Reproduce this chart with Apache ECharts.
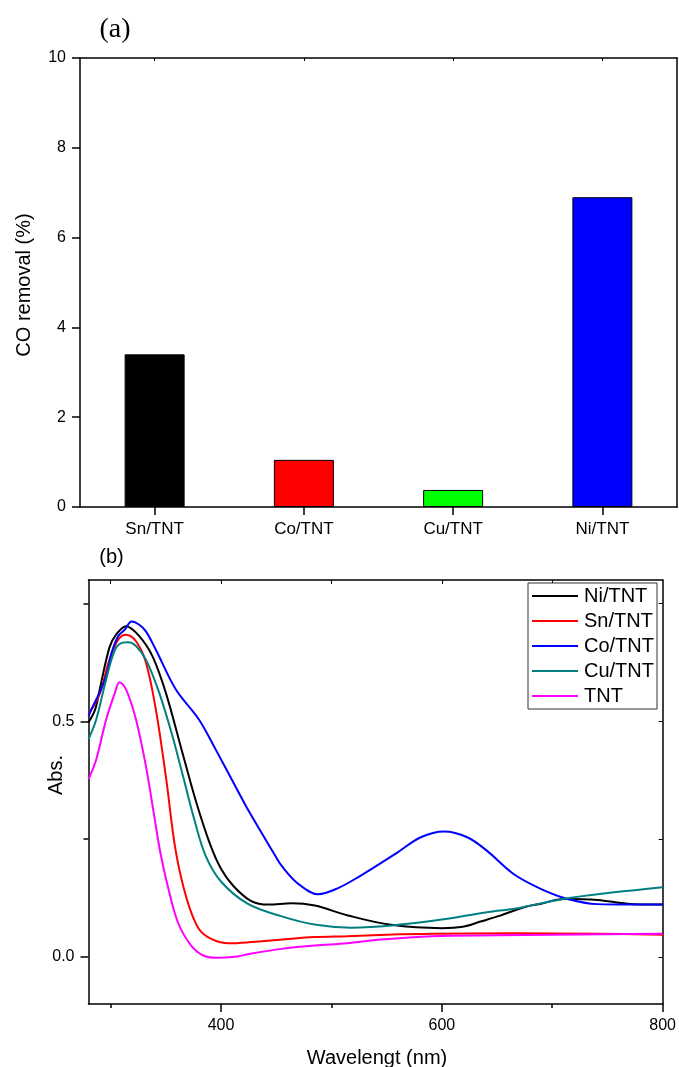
<!DOCTYPE html>
<html><head><meta charset="utf-8">
<script src="https://cdn.jsdelivr.net/npm/echarts@6/dist/echarts.min.js"></script>
<style>html,body{margin:0;padding:0;background:#fff}#c{width:679px;height:1067px}</style>
</head><body><div id="c"></div>
<script>
// ---- (a) bar chart data ----
const barCategories = ['Sn/TNT', 'Co/TNT', 'Cu/TNT', 'Ni/TNT'];
const barValues = [3.4, 1.05, 0.38, 6.9];
const barColors = ['#000000', '#ff0000', '#00ff00', '#0000ff'];

// ---- (b) spectra data ----
const specNames = ['Ni/TNT', 'Sn/TNT', 'Co/TNT', 'Cu/TNT', 'TNT'];
const specColors = ['#000000', '#ff0000', '#0000ff', '#008080', '#ff00ff'];

const niWl = [280,286,290,299,305,314,326,338,350,365,378,390,400,411,427,443,464,485,515,554,600,619,635,652,675,690,710,741,768,800];
const niAbs = [0.498,0.525,0.566,0.657,0.684,0.702,0.681,0.638,0.561,0.434,0.325,0.240,0.187,0.151,0.119,0.111,0.114,0.109,0.088,0.068,0.061,0.064,0.075,0.087,0.106,0.113,0.123,0.121,0.113,0.111];

const snWl = [280,290,299,307,314,323,332,341,350,359,369,380,392,407,425,450,485,514,550,592,665,740,800];
const snAbs = [0.515,0.557,0.631,0.674,0.684,0.670,0.625,0.525,0.384,0.225,0.123,0.059,0.037,0.029,0.031,0.036,0.042,0.044,0.047,0.049,0.050,0.049,0.047];

const coWl = [280,284,290,296,301,307,313,319,326,332,341,359,380,395,416,425,449,455,470,488,506,524,560,581,602,623,641,665,690,714,741,770,800];
const coAbs = [0.511,0.532,0.561,0.596,0.646,0.681,0.695,0.712,0.705,0.691,0.652,0.568,0.504,0.441,0.349,0.310,0.215,0.193,0.155,0.133,0.146,0.169,0.222,0.254,0.266,0.254,0.225,0.176,0.144,0.123,0.112,0.111,0.111];

const cuWl = [280,287,296,304,311,316,323,332,344,356,366,376,386,400,424,455,486,518,560,605,650,666,710,756,800];
const cuAbs = [0.462,0.504,0.589,0.652,0.667,0.668,0.660,0.631,0.561,0.469,0.380,0.290,0.215,0.160,0.113,0.086,0.068,0.062,0.068,0.081,0.098,0.102,0.123,0.137,0.148];

const tntWl = [280,287,296,304,308,314,323,332,340,345,351,361,373,384,396,415,425,455,485,514,545,591,650,700,750,800];
const tntAbs = [0.377,0.419,0.504,0.561,0.583,0.568,0.504,0.405,0.292,0.222,0.158,0.073,0.024,0.003,-0.002,0.001,0.006,0.017,0.024,0.029,0.037,0.044,0.046,0.047,0.048,0.049];

const specWl = [niWl, snWl, coWl, cuWl, tntWl];
const specAbs = [niAbs, snAbs, coAbs, cuAbs, tntAbs];

const xMajor = [400, 600, 800];
const xMinor = [300, 500, 700];
const yMajor = [0, 0.5];
const yMinor = [0.25, 0.75];

const FONT = 'Liberation Sans, Arial, sans-serif';
const AX = {lineStyle: {color: '#000', width: 1.5}};

const chart = echarts.init(document.getElementById('c'), null, {renderer: 'canvas'});

const lineSeries = specNames.map((n, i) => ({
  name: n, type: 'line', xAxisIndex: 2, yAxisIndex: 2,
  data: specWl[i].map((w, j) => [w, specAbs[i][j]]),
  smooth: 0.35, symbol: 'none', animation: false,
  lineStyle: {color: specColors[i], width: 2},
  itemStyle: {color: specColors[i]}
}));

chart.setOption({
  animation: false,
  textStyle: {fontFamily: FONT, color: '#000'},
  grid: [
    {left: 80, top: 58, width: 597, height: 449},
    {left: 88.5, top: 580, width: 577.5, height: 424}
  ],
  xAxis: [
    {type: 'category', gridIndex: 0, data: barCategories, position: 'bottom',
     axisLine: {show: true, onZero: false, ...AX},
     axisTick: {show: true, alignWithLabel: true, length: 8, lineStyle: {color: '#000', width: 1.5}},
     axisLabel: {color: '#000', fontSize: 17, margin: 14, fontFamily: FONT}},
    {type: 'category', gridIndex: 0, data: barCategories, position: 'top',
     axisLine: {show: true, onZero: false, ...AX},
     axisTick: {show: true, inside: true, alignWithLabel: true, length: 3, lineStyle: {color: '#000', width: 1}},
     axisLabel: {show: false}},
    {type: 'value', gridIndex: 1, min: 280, max: 800, position: 'bottom',
     axisLine: {show: true, onZero: false, ...AX},
     axisTick: {show: true, customValues: xMajor, length: 8, lineStyle: {color: '#000', width: 1.5}},
     axisLabel: {show: true, customValues: xMajor, color: '#000', fontSize: 16, margin: 14, fontFamily: FONT},
     splitLine: {show: false}},
    {type: 'value', gridIndex: 1, min: 280, max: 800, position: 'bottom',
     axisLine: {show: false, onZero: false},
     axisTick: {show: true, customValues: xMinor, length: 4, lineStyle: {color: '#000', width: 1.5}},
     axisLabel: {show: false}, splitLine: {show: false}},
    {type: 'value', gridIndex: 1, min: 280, max: 800, position: 'top',
     axisLine: {show: true, onZero: false, ...AX},
     axisTick: {show: true, inside: true, customValues: [300,400,500,600,700], length: 4, lineStyle: {color: '#000', width: 1}},
     axisLabel: {show: false}, splitLine: {show: false}}
  ],
  yAxis: [
    {type: 'value', gridIndex: 0, min: 0, max: 10, interval: 2, position: 'left',
     axisLine: {show: true, onZero: false, ...AX},
     axisTick: {show: true, length: 8, lineStyle: {color: '#000', width: 1.5}},
     axisLabel: {color: '#000', fontSize: 16, margin: 14, fontFamily: FONT},
     splitLine: {show: false}},
    {type: 'value', gridIndex: 0, min: 0, max: 10, interval: 2, position: 'right',
     axisLine: {show: true, onZero: false, ...AX},
     axisTick: {show: false}, axisLabel: {show: false}, splitLine: {show: false}},
    {type: 'value', gridIndex: 1, min: -0.1, max: 0.8, position: 'left',
     axisLine: {show: true, onZero: false, ...AX},
     axisTick: {show: true, customValues: yMajor, length: 8, lineStyle: {color: '#000', width: 1.5}},
     axisLabel: {show: true, customValues: yMajor, color: '#000', fontSize: 16, margin: 14, fontFamily: FONT,
                 formatter: v => Number(v).toFixed(1)},
     splitLine: {show: false}},
    {type: 'value', gridIndex: 1, min: -0.1, max: 0.8, position: 'left',
     axisLine: {show: false, onZero: false},
     axisTick: {show: true, customValues: yMinor, length: 5, lineStyle: {color: '#000', width: 1.5}},
     axisLabel: {show: false}, splitLine: {show: false}},
    {type: 'value', gridIndex: 1, min: -0.1, max: 0.8, position: 'right',
     axisLine: {show: true, onZero: false, ...AX},
     axisTick: {show: true, inside: true, customValues: [0, 0.25, 0.5, 0.75], length: 4, lineStyle: {color: '#000', width: 1}},
     axisLabel: {show: false}, splitLine: {show: false}}
  ],
  legend: {
    data: specNames, orient: 'vertical', left: 528, top: 583,
    padding: [3, 3, 3, 4], itemGap: 5, itemWidth: 46, itemHeight: 2, icon: 'rect',
    backgroundColor: '#fff', borderColor: '#333', borderWidth: 1,
    textStyle: {fontSize: 20, lineHeight: 20, color: '#000', fontFamily: FONT, padding: [0, 0, 0, 1]}
  },
  graphic: [
    {type: 'text', x: 115, y: 30, style: {text: '(a)', font: '28px "Liberation Serif", "Times New Roman", serif', fill: '#000', align: 'center', verticalAlign: 'middle'}},
    {type: 'text', x: 111.5, y: 557, style: {text: '(b)', font: '20px ' + FONT, fill: '#000', align: 'center', verticalAlign: 'middle'}},
    {type: 'text', x: 24, y: 285, rotation: Math.PI / 2, style: {text: 'CO removal (%)', font: '20px ' + FONT, fill: '#000', align: 'center', verticalAlign: 'middle'}},
    {type: 'text', x: 56, y: 775, rotation: Math.PI / 2, style: {text: 'Abs.', font: '20px ' + FONT, fill: '#000', align: 'center', verticalAlign: 'middle'}},
    {type: 'text', x: 377, y: 1058, style: {text: 'Wavelengt (nm)', font: '20px ' + FONT, fill: '#000', align: 'center', verticalAlign: 'middle'}}
  ],
  series: [
    {type: 'bar', xAxisIndex: 0, yAxisIndex: 0, barWidth: 60,
     data: barValues.map((v, i) => ({value: v, itemStyle: {color: barColors[i], borderColor: '#000', borderWidth: 1}}))}
  ].concat(lineSeries)
});
</script>
</body></html>
